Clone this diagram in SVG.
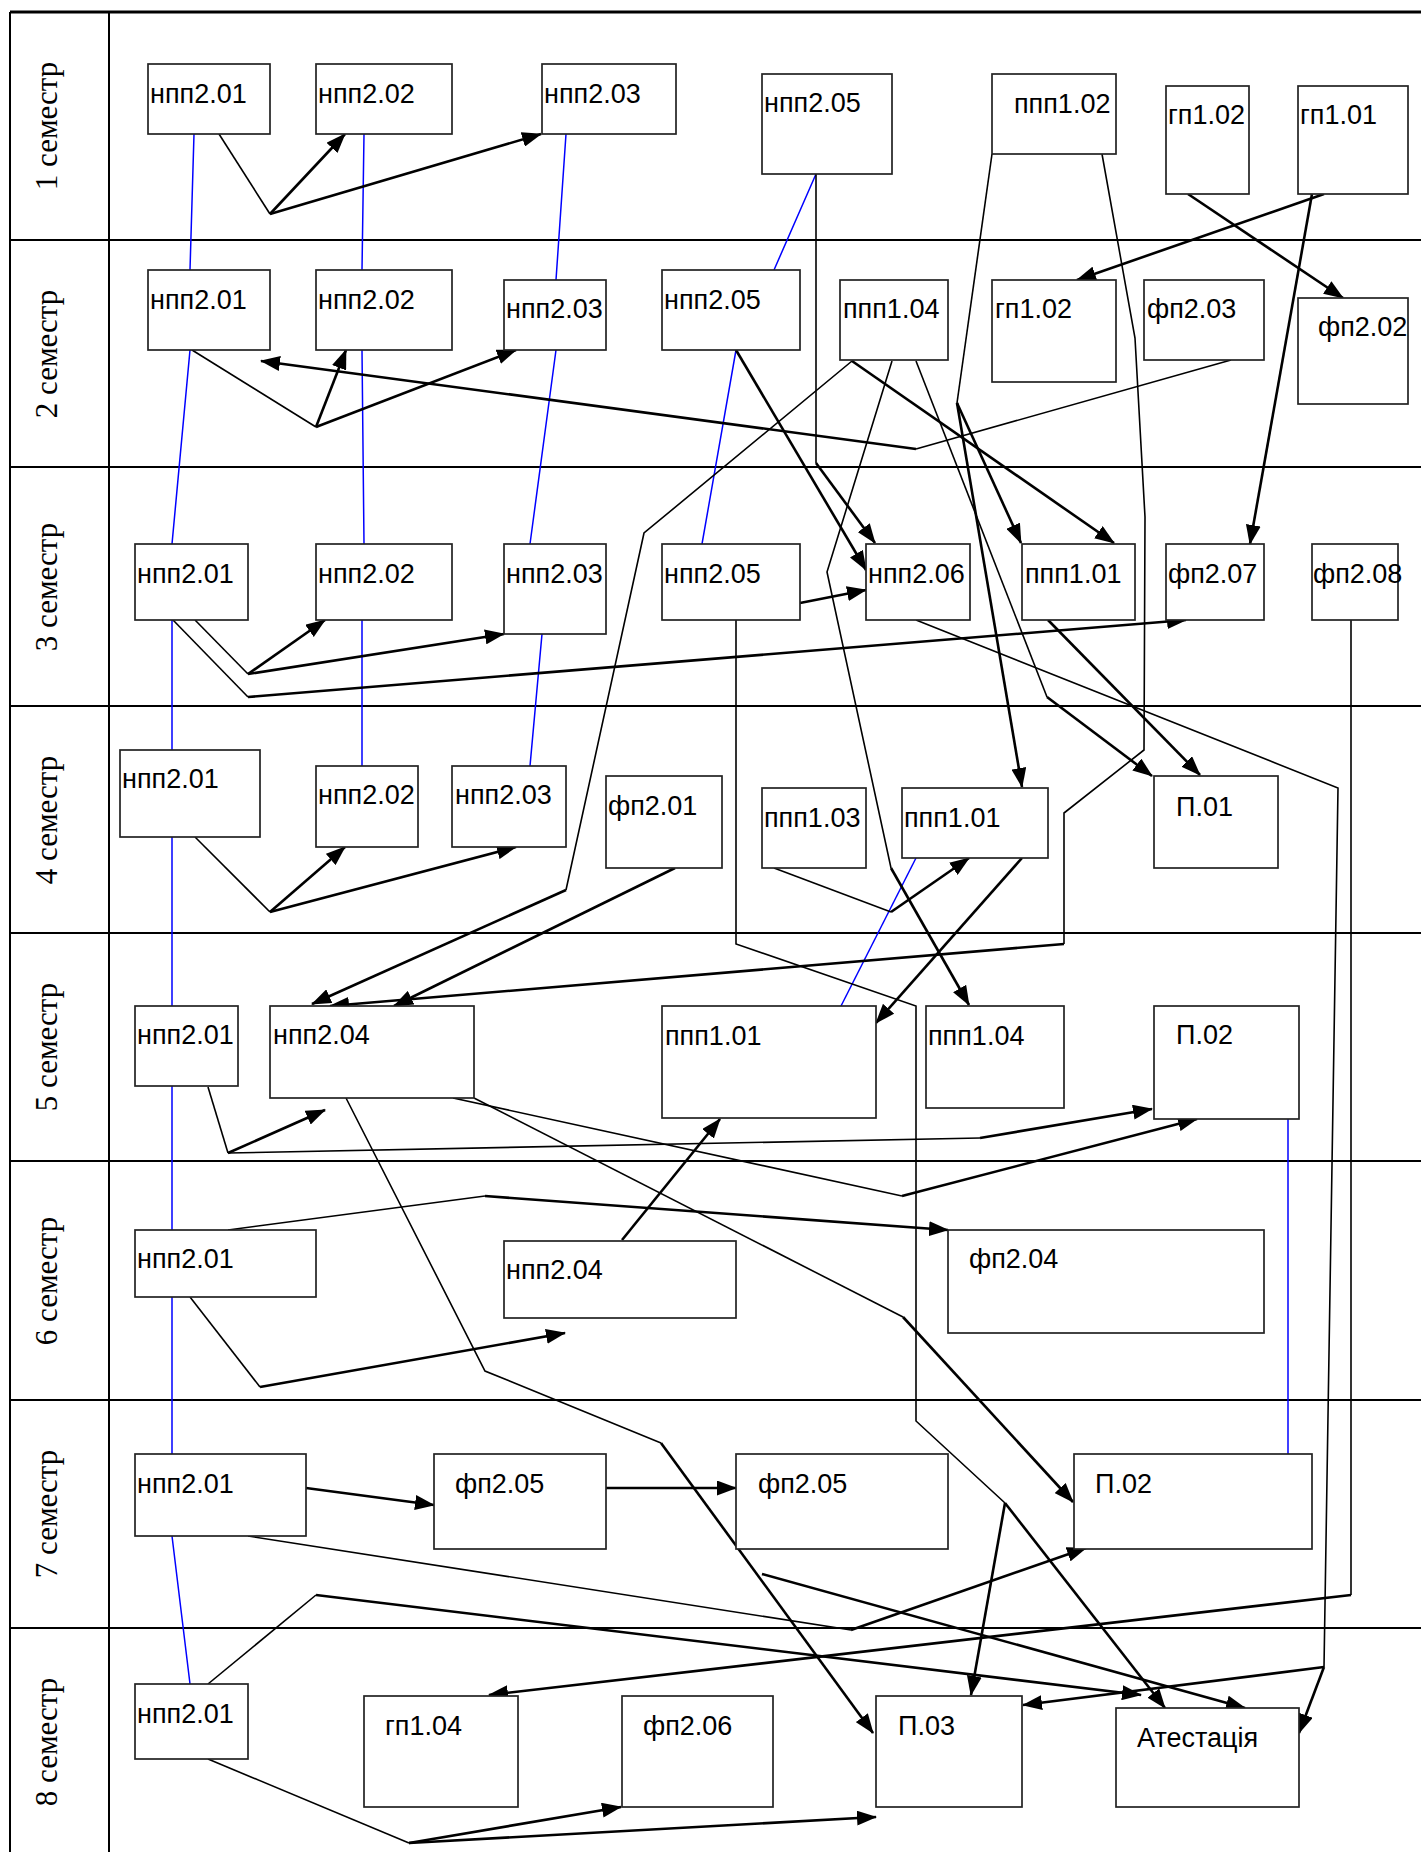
<svg xmlns="http://www.w3.org/2000/svg" width="1421" height="1852" viewBox="0 0 1421 1852">
<style>
.grid{stroke:#000;stroke-width:2;fill:none}
.box{fill:#fff;stroke:#222;stroke-width:1.7}
.lbl{font-family:"Liberation Sans",Arial,sans-serif;font-size:27px;fill:#000}
.sem{font-family:"Liberation Serif","Times New Roman",serif;font-size:31px;fill:#000}
.thin{stroke:#000;stroke-width:1.6;fill:none}
.arr{stroke:#000;stroke-width:2.6;fill:none;marker-end:url(#ah)}
.blue{stroke:#0000ff;stroke-width:1.5;fill:none}
</style>
<defs>
<marker id="ah" markerUnits="userSpaceOnUse" markerWidth="20" markerHeight="15" refX="19" refY="7.5" orient="auto">
<path d="M0,0 L20,7.5 L0,15 z" fill="#000"/>
</marker>
</defs>
<rect width="1421" height="1852" fill="#fff"/>
<g id="grid">
<line class="grid" x1="10" y1="12" x2="1421" y2="12" style="stroke-width:3"/>
<line class="grid" x1="10" y1="12" x2="10" y2="1852"/>
<line class="grid" x1="109" y1="12" x2="109" y2="1852"/>
<line class="grid" x1="10" y1="240" x2="1421" y2="240"/>
<line class="grid" x1="10" y1="467" x2="1421" y2="467"/>
<line class="grid" x1="10" y1="706" x2="1421" y2="706"/>
<line class="grid" x1="10" y1="933" x2="1421" y2="933"/>
<line class="grid" x1="10" y1="1161" x2="1421" y2="1161"/>
<line class="grid" x1="10" y1="1400" x2="1421" y2="1400"/>
<line class="grid" x1="10" y1="1628" x2="1421" y2="1628"/>
</g>
<g id="semesters">
<text class="sem" text-anchor="middle" transform="translate(57,126) rotate(-90)">1 семестр</text>
<text class="sem" text-anchor="middle" transform="translate(57,354) rotate(-90)">2 семестр</text>
<text class="sem" text-anchor="middle" transform="translate(57,587) rotate(-90)">3 семестр</text>
<text class="sem" text-anchor="middle" transform="translate(57,820) rotate(-90)">4 семестр</text>
<text class="sem" text-anchor="middle" transform="translate(57,1047) rotate(-90)">5 семестр</text>
<text class="sem" text-anchor="middle" transform="translate(57,1281) rotate(-90)">6 семестр</text>
<text class="sem" text-anchor="middle" transform="translate(57,1514) rotate(-90)">7 семестр</text>
<text class="sem" text-anchor="middle" transform="translate(57,1742) rotate(-90)">8 семестр</text>
</g>
<g id="connectors">
<path class="blue" d="M194,134 L190,270 M190,350 L172,544 M172,620 L172,750 M172,837 L172,1006 M172,1086 L172,1230 M172,1297 L172,1454 M172,1536 L190,1684"/>
<path class="blue" d="M364,134 L362,270 M362,350 L364,544 M362,620 L362,766"/>
<path class="blue" d="M566,134 L556,280 M556,350 L530,544 M542,634 L530,766"/>
<path class="blue" d="M816,174 L774,270 M736,350 L702,544"/>
<path class="blue" d="M916,858 L841,1006"/>
<path class="blue" d="M1288,1119 L1288,1454"/>
<path class="thin" d="M219,134 L270,214"/>
<path class="arr" d="M270,214 L345,134"/>
<path class="arr" d="M270,214 L541,134"/>
<path class="arr" d="M1324,194 L1077,280"/>
<path class="arr" d="M1188,194 L1343,298"/>
<path class="arr" d="M1312,194 L1250,544"/>
<path class="thin" d="M816,174 L816,463"/>
<path class="arr" d="M816,463 L875,543"/>
<path class="thin" d="M992,154 L957,403"/>
<path class="arr" d="M957,403 L1021,543"/>
<path class="arr" d="M957,403 L1022,787"/>
<path class="thin" d="M1102,154 L1135,338 L1145,517 L1144,750 L1064,813 L1064,944"/>
<path class="arr" d="M1064,944 L330,1006"/>
<path class="thin" d="M192,350 L316,427"/>
<path class="arr" d="M316,427 L346,350"/>
<path class="arr" d="M316,427 L516,350"/>
<path class="thin" d="M1231,360 L916,449"/>
<path class="arr" d="M916,449 L261,361"/>
<path class="arr" d="M736,350 L866,570"/>
<path class="thin" d="M852,361 L644,533 L566,890"/>
<path class="arr" d="M566,890 L312,1004"/>
<path class="arr" d="M852,361 L1114,543"/>
<path class="thin" d="M892,361 L827,572 L891,868"/>
<path class="arr" d="M891,868 L969,1005"/>
<path class="thin" d="M916,361 L1047,697"/>
<path class="arr" d="M1047,697 L1152,776"/>
<path class="thin" d="M195,620 L248,674"/>
<path class="arr" d="M248,674 L325,620"/>
<path class="arr" d="M248,674 L504,634"/>
<path class="thin" d="M173,620 L248,697"/>
<path class="arr" d="M248,697 L1186,620"/>
<path class="arr" d="M800,603 L866,590"/>
<path class="arr" d="M1048,620 L1200,775"/>
<path class="thin" d="M736,620 L736,944 L916,1006 L916,1421 L1005,1503"/>
<path class="arr" d="M1005,1503 L971,1695"/>
<path class="arr" d="M1005,1503 L1165,1708"/>
<path class="thin" d="M916,620 L1338,788 L1324,1667"/>
<path class="arr" d="M1324,1667 L1023,1705"/>
<path class="arr" d="M1324,1667 L1299,1733"/>
<path class="thin" d="M1351,620 L1351,1595"/>
<path class="arr" d="M1351,1595 L489,1695"/>
<path class="thin" d="M195,837 L270,912"/>
<path class="arr" d="M270,912 L345,847"/>
<path class="arr" d="M270,912 L516,847"/>
<path class="thin" d="M774,868 L891,912"/>
<path class="arr" d="M891,912 L969,858"/>
<path class="arr" d="M1022,858 L876,1023"/>
<path class="arr" d="M675,868 L394,1006"/>
<path class="thin" d="M208,1087 L228,1153"/>
<path class="arr" d="M228,1153 L325,1110"/>
<path class="thin" d="M228,1153 L980,1138"/>
<path class="arr" d="M980,1138 L1152,1109"/>
<path class="thin" d="M453,1098 L902,1196"/>
<path class="arr" d="M902,1196 L1197,1119"/>
<path class="thin" d="M474,1098 L903,1317"/>
<path class="arr" d="M903,1317 L1073,1502"/>
<path class="thin" d="M346,1098 L485,1371 L661,1443"/>
<path class="arr" d="M661,1443 L873,1733"/>
<path class="thin" d="M228,1230 L485,1196"/>
<path class="arr" d="M485,1196 L948,1230"/>
<path class="thin" d="M190,1297 L260,1387"/>
<path class="arr" d="M260,1387 L565,1333"/>
<path class="arr" d="M622,1240 L720,1119"/>
<path class="arr" d="M306,1488 L434,1505"/>
<path class="arr" d="M606,1488 L736,1488"/>
<path class="thin" d="M248,1536 L851,1630"/>
<path class="arr" d="M851,1630 L1086,1548"/>
<path class="arr" d="M762,1574 L1245,1708"/>
<path class="thin" d="M208,1684 L316,1595"/>
<path class="arr" d="M316,1595 L1141,1695"/>
<path class="thin" d="M208,1759 L409,1843"/>
<path class="arr" d="M409,1843 L621,1807"/>
<path class="arr" d="M409,1843 L876,1817"/>
</g>
<g id="s1-npp201"><rect class="box" x="148" y="64" width="122" height="70"/><text class="lbl" x="150" y="103">нпп2.01</text></g>
<g id="s1-npp202"><rect class="box" x="316" y="64" width="136" height="70"/><text class="lbl" x="318" y="103">нпп2.02</text></g>
<g id="s1-npp203"><rect class="box" x="542" y="64" width="134" height="70"/><text class="lbl" x="544" y="103">нпп2.03</text></g>
<g id="s1-npp205"><rect class="box" x="762" y="74" width="130" height="100"/><text class="lbl" x="764" y="112">нпп2.05</text></g>
<g id="s1-ppp102"><rect class="box" x="992" y="74" width="124" height="80"/><text class="lbl" x="1014" y="113">ппп1.02</text></g>
<g id="s1-gp102"><rect class="box" x="1166" y="86" width="83" height="108"/><text class="lbl" x="1168" y="124">гп1.02</text></g>
<g id="s1-gp101"><rect class="box" x="1298" y="86" width="110" height="108"/><text class="lbl" x="1300" y="124">гп1.01</text></g>
<g id="s2-npp201"><rect class="box" x="148" y="270" width="122" height="80"/><text class="lbl" x="150" y="309">нпп2.01</text></g>
<g id="s2-npp202"><rect class="box" x="316" y="270" width="136" height="80"/><text class="lbl" x="318" y="309">нпп2.02</text></g>
<g id="s2-npp203"><rect class="box" x="504" y="280" width="102" height="70"/><text class="lbl" x="506" y="318">нпп2.03</text></g>
<g id="s2-npp205"><rect class="box" x="662" y="270" width="138" height="80"/><text class="lbl" x="664" y="309">нпп2.05</text></g>
<g id="s2-ppp104"><rect class="box" x="840" y="280" width="108" height="80"/><text class="lbl" x="843" y="318">ппп1.04</text></g>
<g id="s2-gp102"><rect class="box" x="992" y="280" width="124" height="102"/><text class="lbl" x="995" y="318">гп1.02</text></g>
<g id="s2-fp203"><rect class="box" x="1144" y="280" width="120" height="80"/><text class="lbl" x="1147" y="318">фп2.03</text></g>
<g id="s2-fp202"><rect class="box" x="1298" y="298" width="110" height="106"/><text class="lbl" x="1318" y="336">фп2.02</text></g>
<g id="s3-npp201"><rect class="box" x="135" y="544" width="113" height="76"/><text class="lbl" x="137" y="583">нпп2.01</text></g>
<g id="s3-npp202"><rect class="box" x="316" y="544" width="136" height="76"/><text class="lbl" x="318" y="583">нпп2.02</text></g>
<g id="s3-npp203"><rect class="box" x="504" y="544" width="102" height="90"/><text class="lbl" x="506" y="583">нпп2.03</text></g>
<g id="s3-npp205"><rect class="box" x="662" y="544" width="138" height="76"/><text class="lbl" x="664" y="583">нпп2.05</text></g>
<g id="s3-npp206"><rect class="box" x="866" y="544" width="104" height="76"/><text class="lbl" x="868" y="583">нпп2.06</text></g>
<g id="s3-ppp101"><rect class="box" x="1022" y="544" width="113" height="76"/><text class="lbl" x="1025" y="583">ппп1.01</text></g>
<g id="s3-fp207"><rect class="box" x="1166" y="544" width="98" height="76"/><text class="lbl" x="1168" y="583">фп2.07</text></g>
<g id="s3-fp208"><rect class="box" x="1312" y="544" width="86" height="76"/><text class="lbl" x="1313" y="583">фп2.08</text></g>
<g id="s4-npp201"><rect class="box" x="120" y="750" width="140" height="87"/><text class="lbl" x="122" y="788">нпп2.01</text></g>
<g id="s4-npp202"><rect class="box" x="316" y="766" width="102" height="81"/><text class="lbl" x="318" y="804">нпп2.02</text></g>
<g id="s4-npp203"><rect class="box" x="452" y="766" width="114" height="81"/><text class="lbl" x="455" y="804">нпп2.03</text></g>
<g id="s4-fp201"><rect class="box" x="606" y="776" width="116" height="92"/><text class="lbl" x="608" y="815">фп2.01</text></g>
<g id="s4-ppp103"><rect class="box" x="762" y="788" width="104" height="80"/><text class="lbl" x="764" y="827">ппп1.03</text></g>
<g id="s4-ppp101"><rect class="box" x="902" y="788" width="146" height="70"/><text class="lbl" x="904" y="827">ппп1.01</text></g>
<g id="s4-p01"><rect class="box" x="1154" y="776" width="124" height="92"/><text class="lbl" x="1176" y="816">П.01</text></g>
<g id="s5-npp201"><rect class="box" x="135" y="1006" width="103" height="80"/><text class="lbl" x="137" y="1044">нпп2.01</text></g>
<g id="s5-npp204"><rect class="box" x="270" y="1006" width="204" height="92"/><text class="lbl" x="273" y="1044">нпп2.04</text></g>
<g id="s5-ppp101"><rect class="box" x="662" y="1006" width="214" height="112"/><text class="lbl" x="665" y="1045">ппп1.01</text></g>
<g id="s5-ppp104"><rect class="box" x="926" y="1006" width="138" height="102"/><text class="lbl" x="928" y="1045">ппп1.04</text></g>
<g id="s5-p02"><rect class="box" x="1154" y="1006" width="145" height="113"/><text class="lbl" x="1176" y="1044">П.02</text></g>
<g id="s6-npp201"><rect class="box" x="135" y="1230" width="181" height="67"/><text class="lbl" x="137" y="1268">нпп2.01</text></g>
<g id="s6-npp204"><rect class="box" x="504" y="1241" width="232" height="77"/><text class="lbl" x="506" y="1279">нпп2.04</text></g>
<g id="s6-fp204"><rect class="box" x="948" y="1230" width="316" height="103"/><text class="lbl" x="969" y="1268">фп2.04</text></g>
<g id="s7-npp201"><rect class="box" x="135" y="1454" width="171" height="82"/><text class="lbl" x="137" y="1493">нпп2.01</text></g>
<g id="s7-fp205a"><rect class="box" x="434" y="1454" width="172" height="95"/><text class="lbl" x="455" y="1493">фп2.05</text></g>
<g id="s7-fp205b"><rect class="box" x="736" y="1454" width="212" height="95"/><text class="lbl" x="758" y="1493">фп2.05</text></g>
<g id="s7-p02"><rect class="box" x="1074" y="1454" width="238" height="95"/><text class="lbl" x="1095" y="1493">П.02</text></g>
<g id="s8-npp201"><rect class="box" x="135" y="1684" width="113" height="75"/><text class="lbl" x="137" y="1723">нпп2.01</text></g>
<g id="s8-gp104"><rect class="box" x="364" y="1696" width="154" height="111"/><text class="lbl" x="385" y="1735">гп1.04</text></g>
<g id="s8-fp206"><rect class="box" x="622" y="1696" width="151" height="111"/><text class="lbl" x="643" y="1735">фп2.06</text></g>
<g id="s8-p03"><rect class="box" x="876" y="1696" width="146" height="111"/><text class="lbl" x="898" y="1735">П.03</text></g>
<g id="s8-atest"><rect class="box" x="1116" y="1708" width="183" height="99"/><text class="lbl" x="1137" y="1747">Атестація</text></g>
</svg>
